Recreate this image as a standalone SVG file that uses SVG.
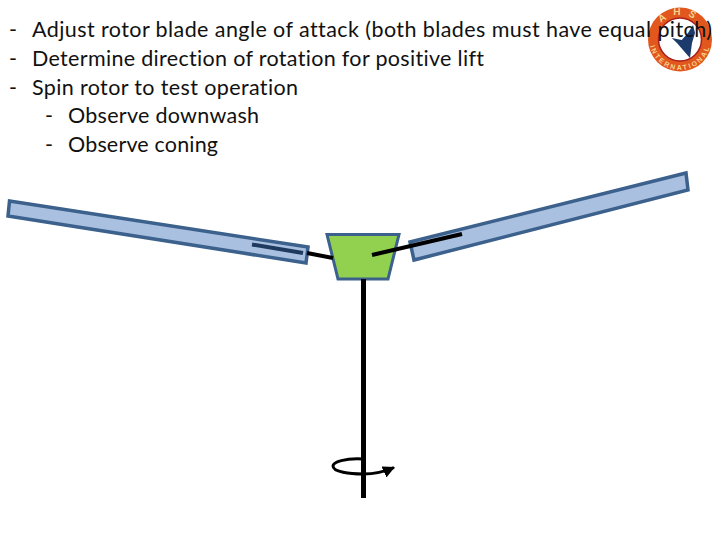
<svg xmlns="http://www.w3.org/2000/svg" width="720" height="540" viewBox="0 0 720 540">
<style>
.t{font-family:"Lato","Open Sans",sans-serif;font-size:21.5px;fill:#111;font-variant-ligatures:none}
.blade{fill:#a9c0e0;stroke:#3b618c;stroke-width:3.5}
.shaft{stroke:#000;fill:none;stroke-linecap:butt}
.lg{font-family:"Liberation Sans",sans-serif;font-weight:bold;fill:#f5d58c}
</style>
<defs>
<marker id="ah" markerUnits="userSpaceOnUse" markerWidth="14" markerHeight="12" refX="11" refY="6" orient="auto"><path d="M0 0L12 6L0 12z" fill="#000"/></marker>
<path id="top" d="M655.500 39.500A24.500 24.500 0 0 1 704.500 39.500"/>
<path id="bot" d="M649.500 39.500A30.500 30.500 0 0 0 710.500 39.500"/>
</defs>
<rect width="720" height="540" fill="#fff"/>
<g id="logo">
<circle cx="680" cy="39.500" r="32" fill="#e2571e"/>
<circle cx="680" cy="39.500" r="21.500" fill="#fff" stroke="#a8201a" stroke-width="1.500"/>
<path d="M671.700 38L681.700 40L688 33L693 25L695 33L692 43L690 58L683 50L677 43z" fill="#1c3a6b"/>
<text class="lg" font-size="10"><textPath href="#top" startOffset="50%" text-anchor="middle" letter-spacing="7">AHS</textPath></text>
<text class="lg" font-size="7"><textPath href="#bot" startOffset="50%" text-anchor="middle" letter-spacing="2">INTERNATIONAL</textPath></text>
</g>
<g id="text">
<text class="t" x="9" y="37">-</text><text class="t" x="32" y="37" textLength="680" lengthAdjust="spacing">Adjust rotor blade angle of attack (both blades must have equal pitch)</text>
<text class="t" x="9" y="66">-</text><text class="t" x="32" y="66" textLength="452" lengthAdjust="spacing">Determine direction of rotation for positive lift</text>
<text class="t" x="9" y="95">-</text><text class="t" x="32" y="95" textLength="266" lengthAdjust="spacing">Spin rotor to test operation</text>
<text class="t" x="45" y="123">-</text><text class="t" x="68" y="123" textLength="191" lengthAdjust="spacing">Observe downwash</text>
<text class="t" x="45" y="152">-</text><text class="t" x="68" y="152" textLength="150" lengthAdjust="spacing">Observe coning</text>
</g>
<g id="blade-left"><polygon class="blade" points="9.500,201 308,247 306,263 8,216"/></g>
<g id="blade-right"><polygon class="blade" points="410,242 686,173 688,190 414,260"/></g>
<g id="hub"><polygon points="327,234.500 399,234.500 388,279 338,279" fill="#92d050" stroke="#3b618c" stroke-width="3"/></g>
<g id="connectors">
<line class="shaft" x1="363.500" y1="279" x2="363.500" y2="498" stroke-width="5"/>
<line class="shaft" x1="252" y1="244.500" x2="303" y2="253" style="stroke:#1f3a5f" stroke-width="4"/>
<line class="shaft" x1="307" y1="253" x2="333" y2="258" stroke-width="4"/>
<line class="shaft" x1="372" y1="255" x2="462" y2="234" stroke-width="4"/>
<path class="shaft" d="M363 459C345 458 333 462 333 466C333 472 350 474 363 474C374 474 384 472 394 467.500" stroke-width="3" marker-end="url(#ah)"/>
</g>
</svg>
